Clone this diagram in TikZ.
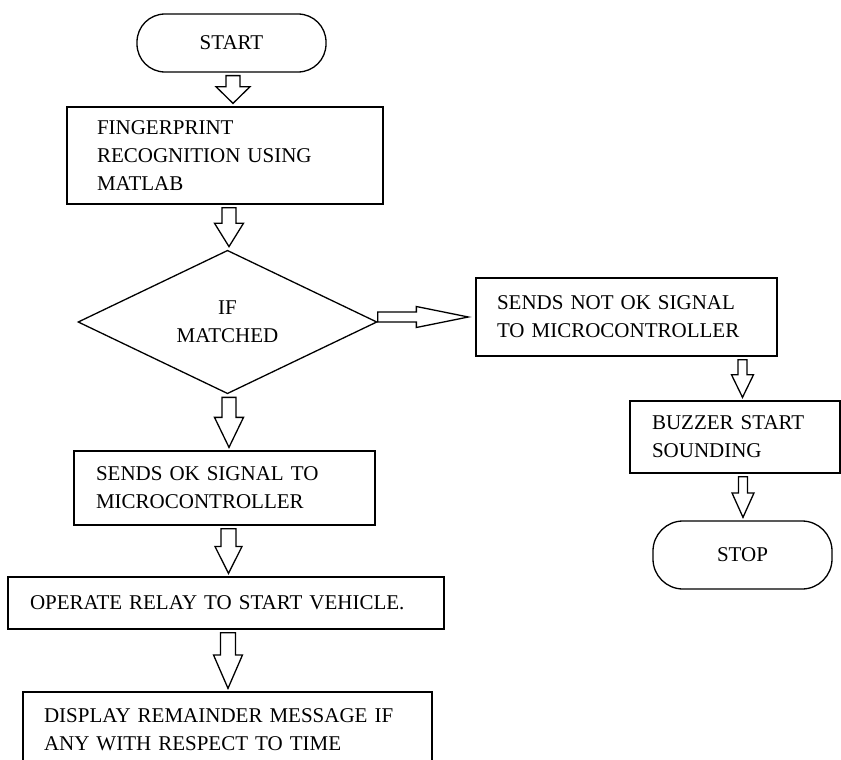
\documentclass[tikz,border=0pt]{standalone}
\usepackage{fontspec}
\setmainfont{Liberation Serif}
\usetikzlibrary{
  calc,            % coordinate arithmetic for the block arrows
  shapes.geometric % diamond decision node
}

\tikzset{
  flowtext/.style={font=\fontsize{21}{28}\selectfont},
  flowbox/.style={draw, rectangle, line width=1.3pt, align=left, inner ysep=0pt, flowtext},
  terminal/.style={draw, rectangle, rounded corners=28pt, line width=1.3pt, inner sep=0pt, flowtext},
  decision/.style={draw, diamond, line width=1.3pt, inner sep=0pt, align=center, flowtext},
  blockarrow/.style={draw, line width=1.3pt, fill=white, line join=miter}
}

% hollow downward arrow from one node to the next
% #1 x offset, #2 upper node, #3 lower node, #4 shaft half width, #5 head half width
\newcommand{\vblock}[5][0]{%
  \draw[blockarrow] let \p1=($(#2.south)+(#1,0)$), \p2=(#3.north) in
    (\x1-#4,\y1-3pt) -- (\x1+#4,\y1-3pt)
    -- (\x1+#4,{\y2+3pt+0.6*(\y1-\y2-6pt)}) -- (\x1+#5,{\y2+3pt+0.6*(\y1-\y2-6pt)})
    -- (\x1,\y2+3pt)
    -- (\x1-#5,{\y2+3pt+0.6*(\y1-\y2-6pt)}) -- (\x1-#4,{\y2+3pt+0.6*(\y1-\y2-6pt)})
    -- cycle;}

\begin{document}
\begin{tikzpicture}[x=1pt, y=-1pt]
  \useasboundingbox (0,0) rectangle (841,760);

  % main column
  \node[terminal, minimum width=189pt, minimum height=58pt] (start) at (231.5,43) {START};
  \node[flowbox, text width=256pt, inner xsep=30pt, minimum height=97pt] (fing) at (225,155.5)
    {FINGERPRINT\\RECOGNITION USING\\MATLAB};
  \node[decision, minimum width=299pt, minimum height=138pt] (dia) at (227.5,322) {IF\\MATCHED};
  \node[flowbox, text width=257pt, inner xsep=22pt, minimum height=74pt] (ok) at (224.5,488)
    {SENDS OK SIGNAL TO\\MICROCONTROLLER};
  \node[flowbox, text width=392pt, inner xsep=22pt, minimum height=52pt] (oper) at (226,603)
    {OPERATE RELAY TO START VEHICLE.};
  \node[flowbox, text width=367pt, inner xsep=21pt, minimum height=76pt] (disp) at (227.5,730)
    {DISPLAY REMAINDER MESSAGE IF\\ANY WITH RESPECT TO TIME};

  % not matched branch
  \node[flowbox, text width=259pt, inner xsep=21pt, minimum height=78pt] (notok) at (626.5,317)
    {SENDS NOT OK SIGNAL\\TO MICROCONTROLLER};
  \node[flowbox, text width=166pt, inner xsep=22pt, minimum height=72pt] (buzz) at (735,437)
    {BUZZER START\\SOUNDING};
  \node[terminal, rounded corners=30pt, minimum width=179pt, minimum height=68pt] (stop) at (742.5,555) {STOP};

  % arrows
  \vblock[1.5]{start}{fing}{7pt}{17pt}
  \vblock[4]{fing}{dia}{7pt}{14.5pt}
  \vblock[1.5]{dia}{ok}{7pt}{14.5pt}
  \vblock[4]{ok}{oper}{7.5pt}{13.5pt}
  \vblock[2]{oper}{disp}{7.5pt}{14.5pt}
  \vblock[116]{notok}{buzz}{4.5pt}{11pt}
  \vblock[8]{buzz}{stop}{4.5pt}{11pt}

  \draw[blockarrow] let \p1=(dia.east), \p2=(notok.west) in
    (\x1,\y2+5pt) -- (\x2-59pt,\y2+5pt) -- (\x2-59pt,\y2+10.5pt) -- (\x2-7pt,\y2)
    -- (\x2-59pt,\y2-10.5pt) -- (\x2-59pt,\y2-5pt) -- (\x1,\y2-5pt) -- cycle;
\end{tikzpicture}
\end{document}
